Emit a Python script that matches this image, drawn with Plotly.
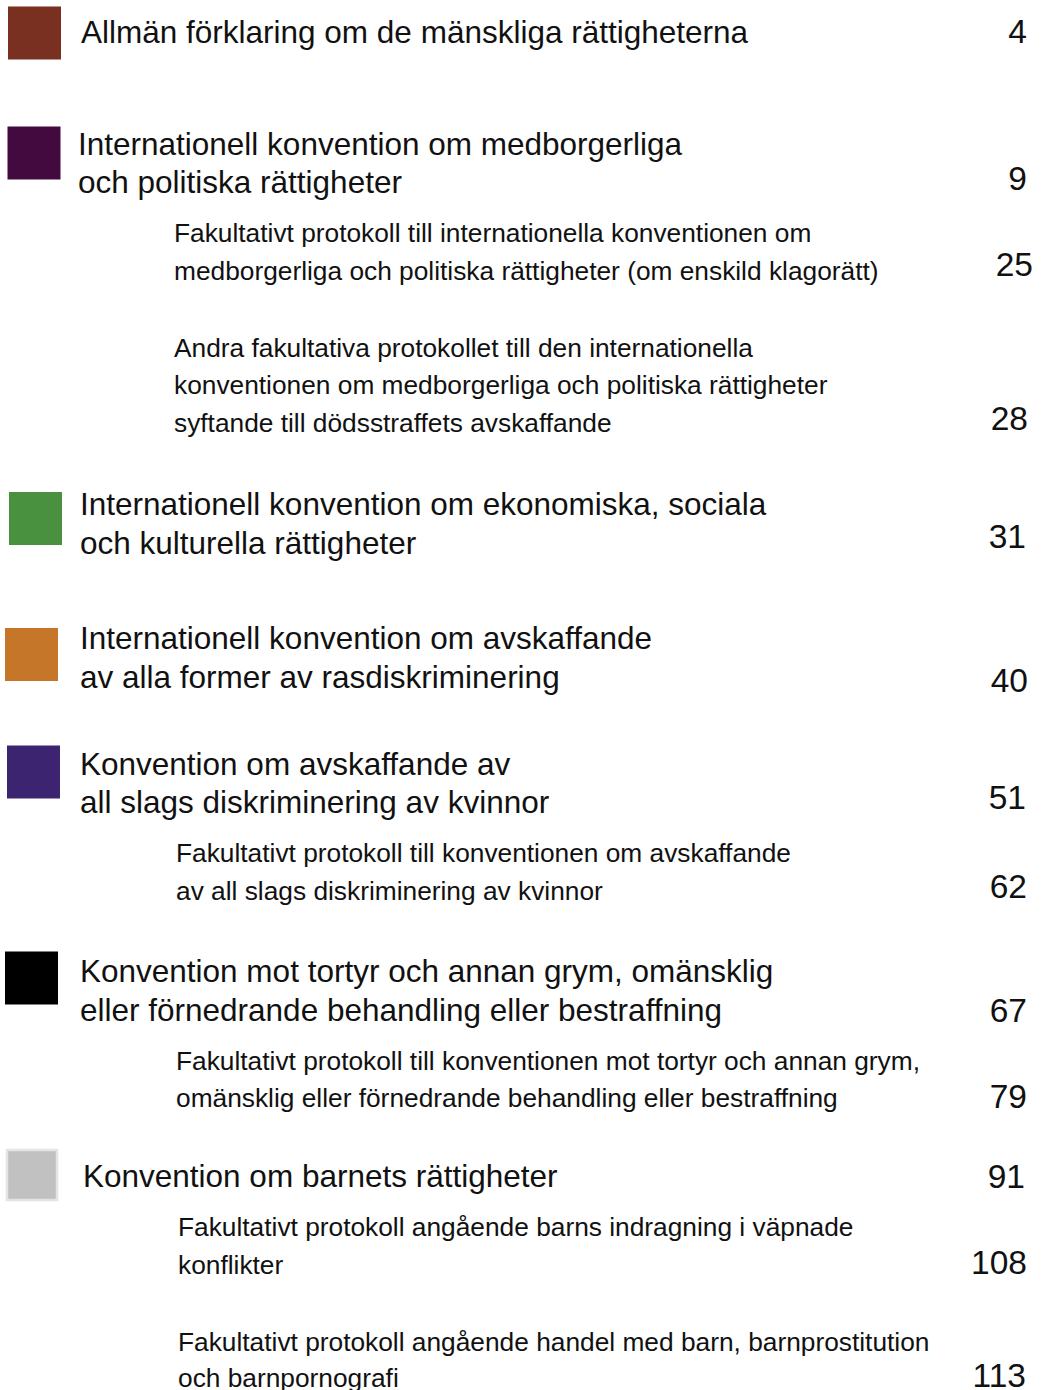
import plotly.graph_objects as go

# ---------------- data ----------------
entry_titles = [
    ["Allmän förklaring om de mänskliga rättigheterna"],
    ["Internationell konvention om medborgerliga", "och politiska rättigheter"],
    ["Fakultativt protokoll till internationella konventionen om",
     "medborgerliga och politiska rättigheter (om enskild klagorätt)"],
    ["Andra fakultativa protokollet till den internationella",
     "konventionen om medborgerliga och politiska rättigheter",
     "syftande till dödsstraffets avskaffande"],
    ["Internationell konvention om ekonomiska, sociala", "och kulturella rättigheter"],
    ["Internationell konvention om avskaffande", "av alla former av rasdiskriminering"],
    ["Konvention om avskaffande av", "all slags diskriminering av kvinnor"],
    ["Fakultativt protokoll till konventionen om avskaffande",
     "av all slags diskriminering av kvinnor"],
    ["Konvention mot tortyr och annan grym, omänsklig",
     "eller förnedrande behandling eller bestraffning"],
    ["Fakultativt protokoll till konventionen mot tortyr och annan grym,",
     "omänsklig eller förnedrande behandling eller bestraffning"],
    ["Konvention om barnets rättigheter"],
    ["Fakultativt protokoll angående barns indragning i väpnade", "konflikter"],
    ["Fakultativt protokoll angående handel med barn, barnprostitution",
     "och barnpornografi"],
]
page_numbers = [4, 9, 25, 28, 31, 40, 51, 62, 67, 79, 91, 108, 113]
entry_levels = [0, 0, 1, 1, 0, 0, 0, 1, 0, 1, 0, 1, 1]
section_colors = ["#7a3020", "#430a3f", "#4a913f", "#c67629", "#3d2470", "#000000", "#c1c1c1"]

# ---------------- layout (pixel positions on the page) ----------------
W, H = 1042, 1390
title_x = [81, 78, 174, 174, 80, 80, 80, 176, 80, 176, 83, 178, 178]
title_y = [
    [35],
    [147, 185],
    [235, 273],
    [350, 387, 425],
    [507, 546],
    [641, 680],
    [767, 805],
    [855, 893],
    [974, 1013],
    [1063, 1100],
    [1179],
    [1229, 1267],
    [1344, 1380],
]
number_right = [1027, 1027, 1033, 1028, 1026, 1028, 1026, 1027, 1027, 1027, 1025, 1027, 1026]
number_y = [35, 182, 268, 422, 540, 684, 801, 890, 1014, 1100, 1180, 1266, 1379]
square_x = [34.5, 34, 35.5, 31.5, 33.5, 31.5, 32]
square_y = [33, 153, 518.5, 654.5, 772, 978, 1175]
square_size = [53, 53, 53, 53, 53, 53, 50]

FONT = "Liberation Sans, Arial, sans-serif"
MAIN_SIZE, SUB_SIZE, NUM_SIZE = 31.5, 26.3, 33.5
TEXT_COLOR = "#111111"

fig = go.Figure()

# section colour squares
fig.add_trace(go.Scatter(
    x=square_x, y=square_y, mode="markers",
    marker=dict(symbol="square", size=square_size, color=section_colors, opacity=1,
                line=dict(color=["rgba(0,0,0,0)"] * 6 + ["#e4e4e4"], width=2.5)),
    hoverinfo="skip", showlegend=False,
))

# titles
for lines, lvl, xs, ys in zip(entry_titles, entry_levels, title_x, title_y):
    fig.add_trace(go.Scatter(
        x=[xs] * len(lines), y=ys, text=lines, mode="text",
        textposition="middle right",
        textfont=dict(family=FONT, size=MAIN_SIZE if lvl == 0 else SUB_SIZE, color=TEXT_COLOR),
        hoverinfo="skip", showlegend=False, cliponaxis=False,
    ))

# page numbers
fig.add_trace(go.Scatter(
    x=number_right, y=number_y, text=[str(p) for p in page_numbers], mode="text",
    textposition="middle left",
    textfont=dict(family=FONT, size=NUM_SIZE, color=TEXT_COLOR),
    hoverinfo="skip", showlegend=False, cliponaxis=False,
))

fig.update_layout(
    width=W, height=H,
    margin=dict(l=0, r=0, t=0, b=0),
    paper_bgcolor="white", plot_bgcolor="white",
    xaxis=dict(range=[0, W], visible=False, fixedrange=True),
    yaxis=dict(range=[H, 0], visible=False, fixedrange=True),
)

fig.write_html(
    "out.html",
    config={"displayModeBar": False},
    post_script="document.body.style.margin='0';document.body.style.overflow='hidden';",
)
